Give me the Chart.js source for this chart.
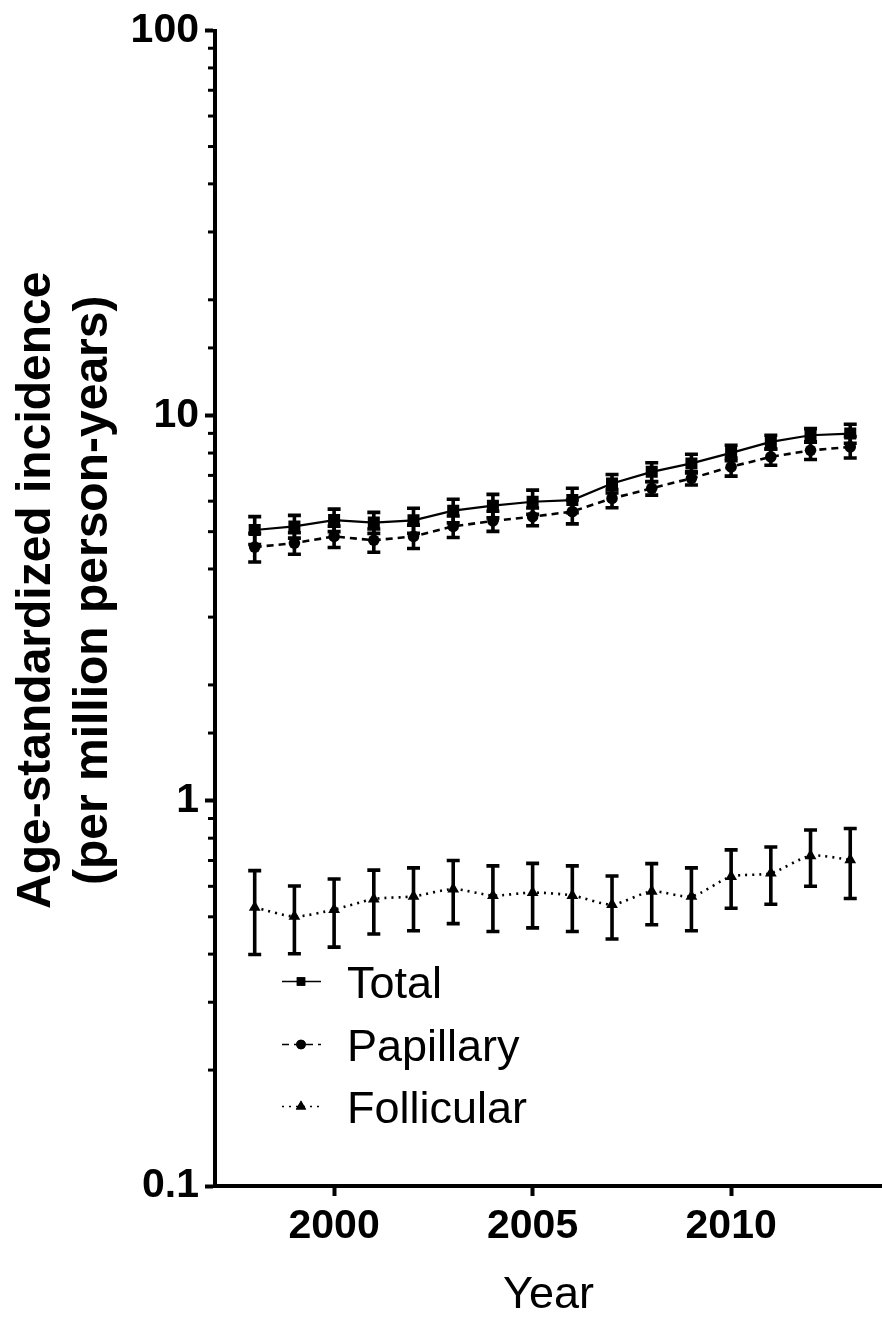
<!DOCTYPE html>
<html>
<head>
<meta charset="utf-8">
<script src="https://cdn.jsdelivr.net/npm/chart.js@4.4.1/dist/chart.umd.min.js"></script>
<style>
  html, body { margin: 0; padding: 0; background: #fff; }
  #wrap { width: 882px; height: 1318px; position: relative; }
</style>
</head>
<body>
<div id="wrap"><canvas id="c" width="882" height="1318"></canvas></div>
<script>
// ---- data ----
const years = [1998, 1999, 2000, 2001, 2002, 2003, 2004, 2005, 2006, 2007, 2008, 2009, 2010, 2011, 2012, 2013];
const seriesNames = ['Total', 'Papillary', 'Follicular'];
const totalValues = [5.05, 5.16, 5.36, 5.28, 5.35, 5.67, 5.84, 5.98, 6.04, 6.67, 7.15, 7.52, 8.01, 8.55, 8.90, 8.99];
const totalErrors = [0.42, 0.35, 0.36, 0.33, 0.40, 0.40, 0.41, 0.43, 0.44, 0.37, 0.40, 0.42, 0.37, 0.35, 0.36, 0.51];
const papillaryValues = [4.56, 4.67, 4.86, 4.75, 4.86, 5.16, 5.33, 5.47, 5.64, 6.10, 6.48, 6.88, 7.37, 7.82, 8.13, 8.30];
const papillaryErrors = [0.39, 0.30, 0.31, 0.33, 0.34, 0.33, 0.32, 0.29, 0.40, 0.33, 0.26, 0.27, 0.40, 0.38, 0.43, 0.53];
const follicularValues = [0.529, 0.501, 0.522, 0.556, 0.565, 0.590, 0.568, 0.578, 0.568, 0.538, 0.582, 0.565, 0.636, 0.649, 0.720, 0.703];
const follicularErrors = [0.13, 0.10, 0.105, 0.105, 0.105, 0.11, 0.11, 0.11, 0.11, 0.10, 0.105, 0.105, 0.11, 0.11, 0.12, 0.145];
const xTickValues = [2000, 2005, 2010];
const yTickLabels = [0.1, 1, 10, 100];
const xTitle = 'Year';
const yTitle = ['Age-standardized incidence', '(per million person-years)'];

// ---- styling ----
const FONT = "'Liberation Sans', Arial, Helvetica, sans-serif";
const BLACK = '#000';

function isLabelTick(v) {
  return yTickLabels.some(t => Math.abs(t - v) / t < 1e-6);
}

function makeDataset(label, values, errors, style) {
  return Object.assign({
    label: label,
    data: years.map((x, i) => ({ x: x, y: values[i] })),
    errorValues: errors,
    borderColor: BLACK,
    backgroundColor: BLACK,
    pointBorderColor: BLACK,
    pointBackgroundColor: BLACK,
    pointBorderWidth: 0,
    fill: false
  }, style);
}

const datasets = [
  makeDataset(seriesNames[0], totalValues, totalErrors, {
    borderWidth: 2.2, pointStyle: 'rect', pointRadius: 8.5, tension: 0, legendMarker: 6
  }),
  makeDataset(seriesNames[1], papillaryValues, papillaryErrors, {
    borderWidth: 2.6, borderDash: [7, 5], pointStyle: 'circle', pointRadius: 5.8, tension: 0, legendMarker: 4.8
  }),
  makeDataset(seriesNames[2], follicularValues, follicularErrors, {
    borderWidth: 2.6, borderDash: [2, 5], pointStyle: 'triangle', pointRadius: 6.8, tension: 0.25, legendMarker: 6
  })
];

// error bars drawn through the chart's own scales
const errorBarPlugin = {
  id: 'errorBars',
  beforeDatasetsDraw(chart) {
    const ctx = chart.ctx;
    const xs = chart.scales.x, ys = chart.scales.y;
    ctx.save();
    ctx.strokeStyle = BLACK;
    ctx.lineWidth = 3.6;
    ctx.lineCap = 'butt';
    chart.data.datasets.forEach(ds => {
      ds.data.forEach((p, i) => {
        const e = ds.errorValues[i];
        const px = xs.getPixelForValue(p.x);
        const yTop = ys.getPixelForValue(p.y + e);
        const yBot = ys.getPixelForValue(p.y - e);
        const cap = 6.5;
        ctx.beginPath();
        ctx.moveTo(px, yTop); ctx.lineTo(px, yBot);
        ctx.moveTo(px - cap, yTop); ctx.lineTo(px + cap, yTop);
        ctx.moveTo(px - cap, yBot); ctx.lineTo(px + cap, yBot);
        ctx.stroke();
      });
    });
    ctx.restore();
  }
};

// short minor ticks on the log axis
const minorTickPlugin = {
  id: 'minorTicks',
  afterDraw(chart) {
    const ctx = chart.ctx;
    const ys = chart.scales.y;
    const left = chart.chartArea.left;
    ctx.save();
    ctx.strokeStyle = BLACK;
    ctx.lineWidth = 3;
    ys.ticks.forEach(t => {
      if (isLabelTick(t.value)) return;
      const py = ys.getPixelForValue(t.value);
      ctx.beginPath();
      ctx.moveTo(left - 7, py);
      ctx.lineTo(left, py);
      ctx.stroke();
    });
    ctx.restore();
  }
};

// two-line rotated y-axis title
const yTitlePlugin = {
  id: 'yTitle',
  afterDraw(chart) {
    const ctx = chart.ctx;
    const area = chart.chartArea;
    const baselineX = [50, 107];
    const centerY = area.top + (area.bottom - area.top) / 2 - 18;
    ctx.save();
    ctx.fillStyle = BLACK;
    ctx.font = 'bold 48px ' + FONT;
    ctx.textAlign = 'center';
    ctx.textBaseline = 'alphabetic';
    yTitle.forEach((line, i) => {
      ctx.save();
      ctx.translate(baselineX[i], centerY);
      ctx.rotate(-Math.PI / 2);
      ctx.fillText(line, 0, 0);
      ctx.restore();
    });
    ctx.restore();
  }
};

// legend inside the plot, line + marker samples as in the reference
const inlineLegendPlugin = {
  id: 'inlineLegend',
  afterDatasetsDraw(chart) {
    const ctx = chart.ctx;
    const area = chart.chartArea;
    const baselines = [area.bottom - 188, area.bottom - 125, area.bottom - 63];
    const x0 = area.left + 67, x1 = area.left + 106, xm = area.left + 86, xt = area.left + 132;
    ctx.save();
    chart.data.datasets.forEach((ds, i) => {
      const yb = baselines[i];
      const yl = yb - 16.5;
      ctx.strokeStyle = BLACK;
      ctx.lineWidth = 1.6;
      ctx.setLineDash(ds.borderDash || []);
      ctx.beginPath();
      ctx.moveTo(x0, yl); ctx.lineTo(x1, yl);
      ctx.stroke();
      ctx.setLineDash([]);
      Chart.helpers.drawPoint(ctx, { pointStyle: ds.pointStyle, rotation: 0, borderWidth: 0, radius: ds.legendMarker }, xm, yl);
      ctx.fillStyle = BLACK;
      ctx.fill();
      ctx.font = '45px ' + FONT;
      ctx.textAlign = 'left';
      ctx.textBaseline = 'alphabetic';
      ctx.fillText(ds.label, xt, yb);
    });
    ctx.restore();
  }
};

const chart = new Chart(document.getElementById('c'), {
  type: 'line',
  data: { datasets: datasets },
  plugins: [errorBarPlugin, minorTickPlugin, yTitlePlugin, inlineLegendPlugin],
  options: {
    responsive: false,
    animation: false,
    layout: { autoPadding: false, padding: { top: 25, right: 0, bottom: 0, left: 0 } },
    plugins: { legend: { display: false }, tooltip: { enabled: false } },
    scales: {
      x: {
        type: 'linear',
        min: 1997,
        max: 2013.8,
        afterBuildTicks: s => { s.ticks = xTickValues.map(v => ({ value: v })); },
        afterFit: s => { s.height = 132; },
        ticks: {
          autoSkip: false, maxRotation: 0, padding: 6, color: BLACK,
          font: { family: FONT, size: 41, weight: 'bold' },
          callback: v => String(v)
        },
        grid: { drawOnChartArea: false, drawTicks: true, tickLength: 10, tickWidth: 4, tickColor: BLACK },
        border: { display: true, color: BLACK, width: 4 },
        title: {
          display: true, text: xTitle, color: BLACK,
          font: { family: FONT, size: 45, lineHeight: 1 },
          padding: { top: 0, bottom: 0 }
        }
      },
      y: {
        type: 'logarithmic',
        min: 0.1,
        max: 100,
        afterFit: s => { s.width = 215; },
        ticks: {
          autoSkip: false, padding: 6, color: BLACK,
          font: { family: FONT, size: 41, weight: 'bold' },
          callback: v => isLabelTick(v) ? String(v) : ''
        },
        grid: {
          drawOnChartArea: false, drawTicks: true, tickLength: 10, tickWidth: 4,
          tickColor: c => (c.tick && isLabelTick(c.tick.value)) ? BLACK : 'rgba(0,0,0,0)'
        },
        border: { display: true, color: BLACK, width: 4 },
        title: { display: false }
      }
    }
  }
});
</script>
</body>
</html>
